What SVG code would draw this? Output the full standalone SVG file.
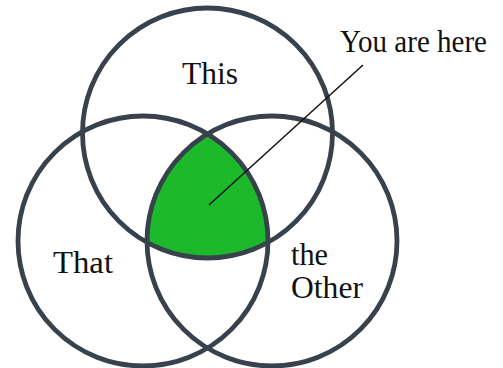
<svg xmlns="http://www.w3.org/2000/svg" width="503" height="368" viewBox="0 0 503 368">
  <style>
    .set { fill: none; stroke: #37424c; stroke-width: 4.8; }
    .lbl { font-family: "Liberation Serif", "Times New Roman", serif; font-size: 31px; fill: #111; }
  </style>
  <rect width="503" height="368" fill="#ffffff"/>
  <g id="center-region">
    <path d="M207.5,133.9 A125,125 0 0 0 147,242.4 A125,125 0 0 0 268,242.4 A125,125 0 0 0 207.5,133.9 Z" fill="#1cb92a"/>
  </g>
  <g id="this">
    <circle class="set" cx="207.5" cy="133" r="125"/>
    <text class="lbl" x="182" y="84" textLength="56" lengthAdjust="spacingAndGlyphs">This</text>
  </g>
  <g id="that">
    <circle class="set" cx="143" cy="241" r="125"/>
    <text class="lbl" x="53" y="273" textLength="60" lengthAdjust="spacingAndGlyphs">That</text>
  </g>
  <g id="the-other">
    <circle class="set" cx="272" cy="241" r="125"/>
    <text class="lbl" x="291" y="265" textLength="37" lengthAdjust="spacingAndGlyphs">the</text>
    <text class="lbl" x="291" y="298" textLength="72" lengthAdjust="spacingAndGlyphs">Other</text>
  </g>
  <g id="connectors">
    <line x1="209" y1="205" x2="363" y2="65" stroke="#111" stroke-width="1.5"/>
  </g>
  <g id="you-are-here">
    <text class="lbl" x="340" y="52" textLength="147" lengthAdjust="spacingAndGlyphs">You are here</text>
  </g>
</svg>
